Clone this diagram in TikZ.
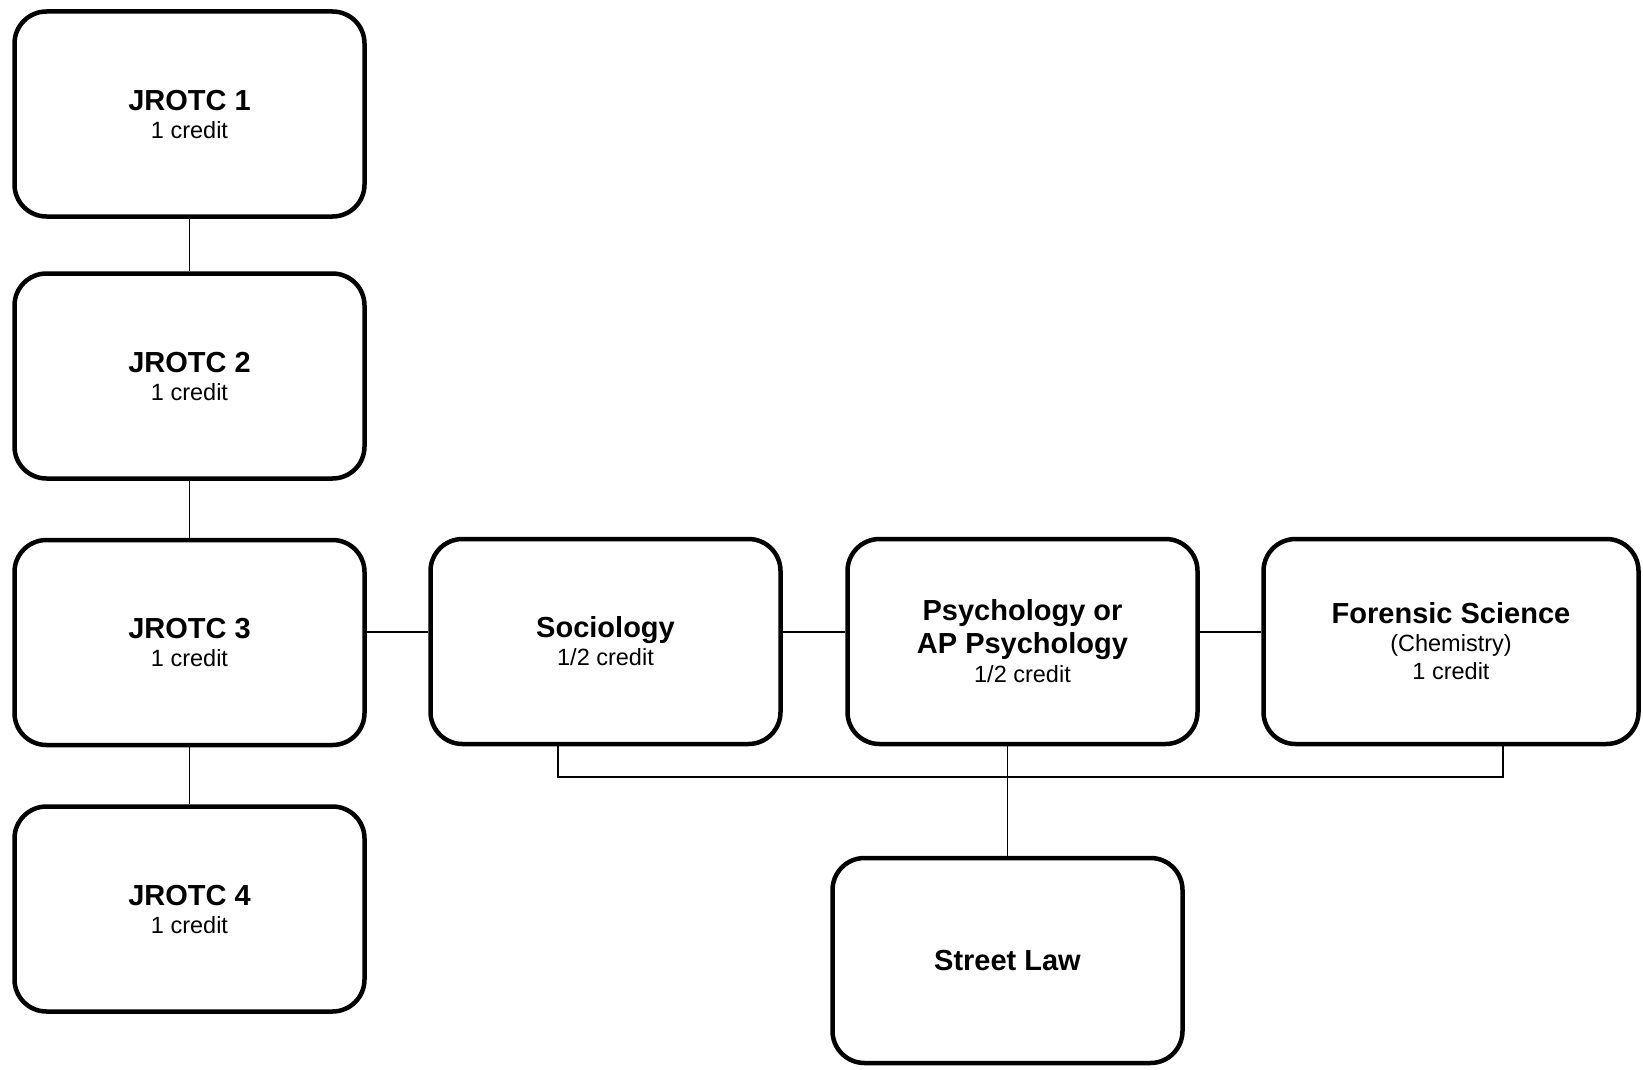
\documentclass[tikz,border=0pt]{standalone}
\usepackage{fontspec}
\setmainfont{Liberation Sans}
\newcommand{\tb}{\fontsize{29}{33}\selectfont\bfseries}
\begin{document}
\begin{tikzpicture}[x=1pt,y=-1pt,
  box/.style={draw=black,line width=4.5pt,rounded corners=32pt,fill=white,
    minimum width=350pt,minimum height=205pt,align=center,inner sep=0pt,
    font=\fontsize{23.5}{28}\selectfont},
  link/.style={draw=black,line width=1.8pt}]
\useasboundingbox (0,0) rectangle (1643,1070);
\node[box] (j1) at (189.5,114) {{\tb JROTC 1}\\1 credit};
\node[box] (j2) at (189.5,376) {{\tb JROTC 2}\\1 credit};
\node[box] (j3) at (189.5,642.5) {{\tb JROTC 3}\\1 credit};
\node[box] (j4) at (189.5,909) {{\tb JROTC 4}\\1 credit};
\node[box] (soc) at (605.5,641.5) {{\tb Sociology}\\1/2 credit};
\node[box] (psy) at (1022.5,641.5) {{\tb Psychology or}\\[5pt]{\tb AP Psychology}\\[1pt]1/2 credit};
\node[box,minimum width=375pt] (for) at (1451,641.5) {{\tb Forensic Science}\\(Chemistry)\\1 credit};
\node[box] (law) at (1007.5,960.5) {\tb Street Law};
\coordinate (busl) at (558,777);
\coordinate (busr) at (1503,777);
\coordinate (busm) at (1007.5,777);
\draw[link] (j1.south) -- (j2.north);
\draw[link] (j2.south) -- (j3.north);
\draw[link] (j3.south) -- (j4.north);
\draw[link] (j3.east |- 0,632) -- (soc.west |- 0,632);
\draw[link] (soc.east |- 0,632) -- (psy.west |- 0,632);
\draw[link] (psy.east |- 0,632) -- (for.west |- 0,632);
\draw[link] (soc.south -| busl) -- (busl) -- (busr) -- (for.south -| busr);
\draw[link] (psy.south -| busm) -- (law.north);
\end{tikzpicture}
\end{document}
